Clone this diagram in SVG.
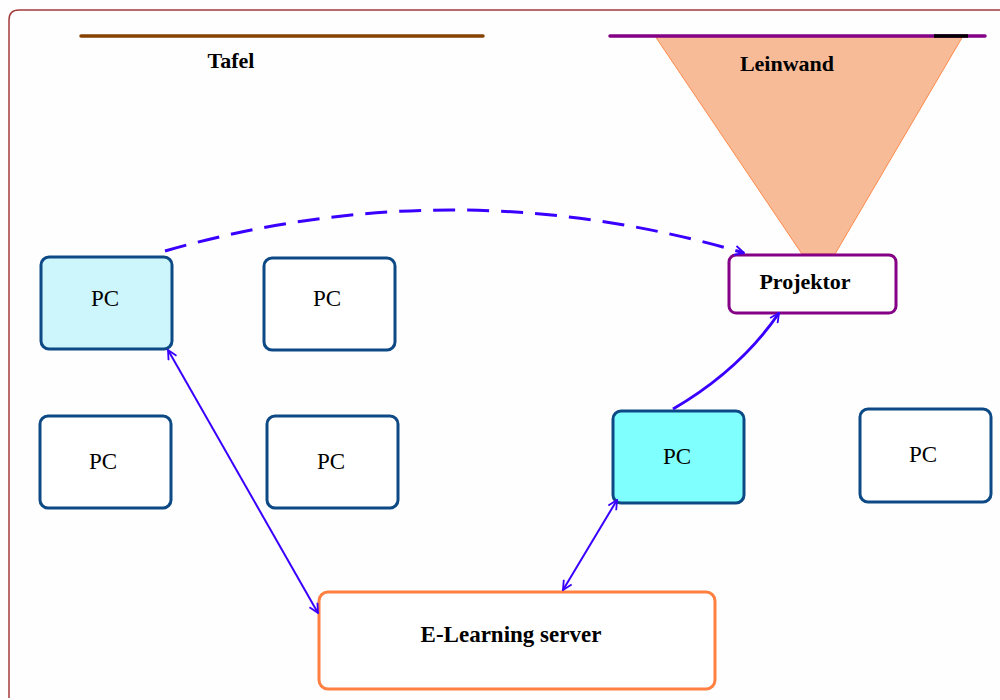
<svg xmlns="http://www.w3.org/2000/svg" width="1000" height="700" viewBox="0 0 1000 700">
<defs>
<style>
.pc{fill:#ffffff;stroke:#0d4a85;stroke-width:3}
.lbl{font-family:"Liberation Serif",serif;font-size:23px;fill:#000;text-anchor:middle}
.b{font-weight:bold;font-size:22px}
.con{fill:none;stroke:#3a00ff}
</style>
<marker id="ah" viewBox="0 0 12 12" refX="11" refY="6" markerWidth="11" markerHeight="11" markerUnits="userSpaceOnUse" orient="auto-start-reverse">
<path d="M1,1 L11,6 L1,11" fill="none" stroke="#3a00ff" stroke-width="2"/>
</marker>
</defs>
<rect x="0" y="0" width="1000" height="700" fill="#fefefe"/>
<path d="M9,698 L9,20 Q9,10 19,10 L1000,10" fill="none" stroke="#a33a3a" stroke-width="1.5"/>
<g id="tafel">
<line x1="81" y1="36" x2="483" y2="36" stroke="#854200" stroke-width="3.5" stroke-linecap="round"/>
<text class="lbl b" x="231" y="68">Tafel</text>
</g>
<g id="leinwand">
<polygon points="655,36 963,36 835,254 802,254" fill="#f7bb98" stroke="#ff8a4a" stroke-width="1"/>
<line x1="610" y1="36" x2="985" y2="36" stroke="#840084" stroke-width="3.5" stroke-linecap="round"/>
<line x1="934" y1="36" x2="968" y2="36" stroke="#000" stroke-width="3.5"/>
<text class="lbl b" x="787" y="71">Leinwand</text>
</g>
<g id="projektor">
<rect x="729" y="255" width="167" height="58" rx="7" fill="#fff" stroke="#840084" stroke-width="3"/>
<text class="lbl b" x="805" y="289">Projektor</text>
</g>
<g id="pc1">
<rect class="pc" x="41" y="257" width="131" height="92" rx="8" style="fill:#ccf6fc"/>
<text class="lbl" x="105" y="306">PC</text>
</g>
<g id="pc2">
<rect class="pc" x="264" y="258" width="131" height="92" rx="8"/>
<text class="lbl" x="327" y="306">PC</text>
</g>
<g id="pc3">
<rect class="pc" x="40" y="416" width="131" height="92" rx="8"/>
<text class="lbl" x="103" y="469">PC</text>
</g>
<g id="pc4">
<rect class="pc" x="267" y="416" width="131" height="92" rx="8"/>
<text class="lbl" x="331" y="469">PC</text>
</g>
<g id="pc5">
<rect class="pc" x="613" y="411" width="131" height="92" rx="8" style="fill:#80ffff"/>
<text class="lbl" x="677" y="464">PC</text>
</g>
<g id="pc6">
<rect class="pc" x="860" y="409" width="131" height="93" rx="8"/>
<text class="lbl" x="923" y="462">PC</text>
</g>
<g id="server">
<rect x="319" y="592" width="396" height="97" rx="9" fill="#fff" stroke="#ff8040" stroke-width="3"/>
<text class="lbl b" x="511" y="642" style="font-size:23px">E-Learning server</text>
</g>
<g id="connectors">
<path class="con" d="M165,251 Q455,168 744,253" stroke-width="3" stroke-dasharray="22,12" marker-end="url(#ah)"/>
<line class="con" x1="168" y1="350" x2="318" y2="613" stroke-width="2" marker-start="url(#ah)" marker-end="url(#ah)"/>
<line class="con" x1="617" y1="500" x2="563" y2="590" stroke-width="2" marker-start="url(#ah)" marker-end="url(#ah)"/>
<path class="con" d="M673,409 Q740,370 779,313" stroke-width="3" marker-end="url(#ah)"/>
</g>
</svg>
